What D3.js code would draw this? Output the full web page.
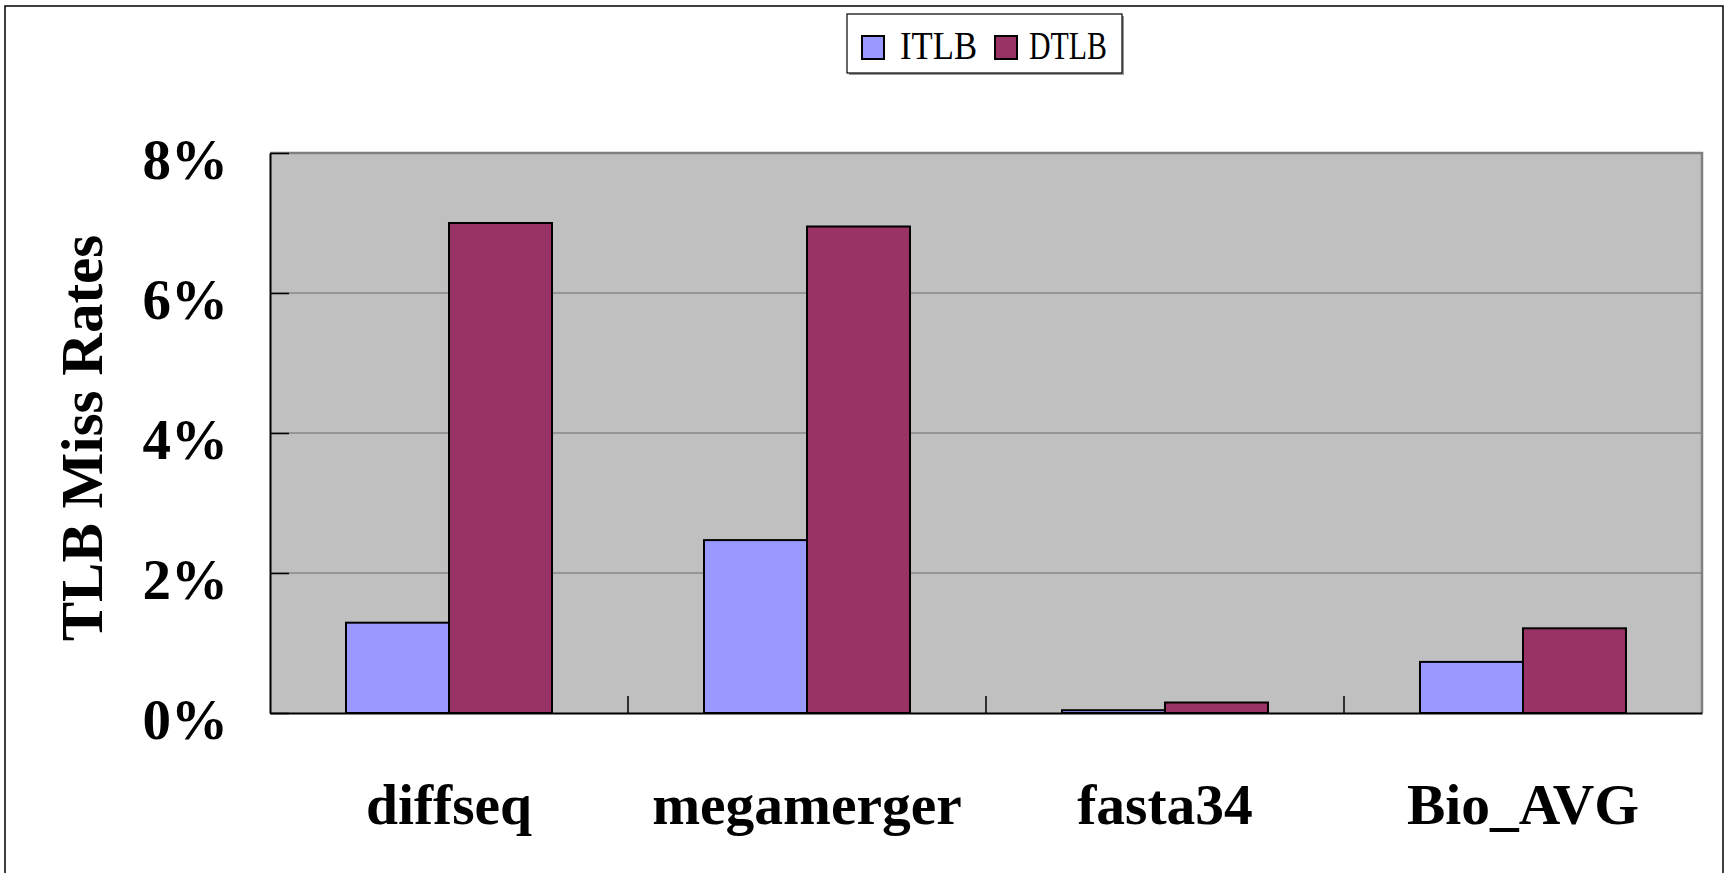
<!DOCTYPE html>
<html>
<head>
<meta charset="utf-8">
<script src="https://cdn.jsdelivr.net/npm/d3@7"></script>
<style>
  html, body { margin: 0; padding: 0; background: #fff; }
  svg { display: block; }
</style>
</head>
<body>
<svg id="chart" width="1728" height="873"></svg>
<script>
const categories = ["diffseq", "megamerger", "fasta34", "Bio_AVG"];
const seriesNames = ["ITLB", "DTLB"];
const itlbValues = [0.0129, 0.0247, 0.0004, 0.0073];
const dtlbValues = [0.0700, 0.0695, 0.0015, 0.0121];
const yTicks = [0, 0.02, 0.04, 0.06, 0.08];
const colors = ["#9999FF", "#993366"];

const seriesValues = [itlbValues, dtlbValues];
const svg = d3.select("#chart");
const serif = "'Liberation Serif', 'Times New Roman', serif";

// outer frame
svg.append("rect").attr("x", 5).attr("y", 6).attr("width", 1718).attr("height", 900)
  .attr("fill", "#fff").attr("stroke", "#000").attr("stroke-width", 1.5);

const plot = { left: 270, top: 153, right: 1702, bottom: 713 };

const y = d3.scaleLinear().domain([0, 0.08]).range([plot.bottom, plot.top]);
const x0 = d3.scaleBand().domain(categories).range([plot.left, plot.right])
  .paddingInner(0.4246).paddingOuter(0.2123);
const xSep = d3.scaleBand().domain(categories).range([plot.left, plot.right]).padding(0);
const x1 = d3.scaleBand().domain(seriesNames).range([0, x0.bandwidth()]).padding(0);

// plot background
svg.append("rect").attr("x", plot.left).attr("y", plot.top)
  .attr("width", plot.right - plot.left).attr("height", plot.bottom - plot.top)
  .attr("fill", "#C0C0C0");

// gridlines
svg.append("g").selectAll("line").data(yTicks.filter(d => d > 0)).join("line")
  .attr("x1", plot.left).attr("x2", plot.right)
  .attr("y1", d => y(d)).attr("y2", d => y(d))
  .attr("stroke", "#6a6a6a").attr("stroke-width", 1.2);

// plot border top/right
svg.append("path")
  .attr("d", `M${plot.left},${plot.top}H${plot.right}V${plot.bottom}`)
  .attr("fill", "none").attr("stroke", "#808080").attr("stroke-width", 2.5);

// bars
const groups = svg.append("g").selectAll("g").data(categories).join("g")
  .attr("transform", d => `translate(${x0(d)},0)`);
groups.selectAll("rect").data((d, i) => seriesNames.map((s, j) => ({ s, v: seriesValues[j][i], j })))
  .join("rect")
  .attr("x", d => x1(d.s)).attr("width", x1.bandwidth())
  .attr("y", d => y(d.v)).attr("height", d => plot.bottom - y(d.v))
  .attr("fill", d => colors[d.j]).attr("stroke", "#000").attr("stroke-width", 2);

// y axis
const yAxis = d3.axisLeft(y).tickValues(yTicks).tickFormat(d3.format(".0%"))
  .tickSizeInner(-19).tickSizeOuter(0).tickPadding(42);
const yg = svg.append("g").attr("transform", `translate(${plot.left},0)`).call(yAxis);
yg.select(".domain").attr("stroke", "#000").attr("stroke-width", 2);
yg.selectAll(".tick line").attr("stroke", "#000").attr("stroke-width", 1.5);
yg.selectAll(".tick text").attr("font-family", serif).attr("font-weight", "bold")
  .attr("font-size", 57).attr("fill", "#000").attr("dy", "0.44em");

// x axis
const xAxis = d3.axisBottom(xSep).tickSize(0).tickFormat(d => d).tickPadding(111);
const xg = svg.append("g").attr("transform", `translate(0,${plot.bottom})`).call(xAxis);
xg.select(".domain").attr("stroke", "#000").attr("stroke-width", 2);
xg.selectAll(".tick text").attr("font-family", serif).attr("font-weight", "bold")
  .attr("font-size", 57.5).attr("fill", "#000").attr("dy", 0);
// category separators (tick marks inward)
svg.append("g").selectAll("line").data(categories.slice(1)).join("line")
  .attr("x1", d => xSep(d)).attr("x2", d => xSep(d))
  .attr("y1", plot.bottom).attr("y2", plot.bottom - 17)
  .attr("stroke", "#000").attr("stroke-width", 1.5);

// y title
svg.append("text").attr("transform", `translate(102,438) rotate(-90)`)
  .attr("text-anchor", "middle").attr("font-family", serif).attr("font-weight", "bold")
  .attr("font-size", 59).attr("fill", "#000").text("TLB Miss Rates");

// legend
const lg = svg.append("g");
lg.append("rect").attr("x", 849).attr("y", 16).attr("width", 275).attr("height", 59).attr("fill", "#999");
lg.append("rect").attr("x", 847).attr("y", 14).attr("width", 275).attr("height", 59)
  .attr("fill", "#fff").attr("stroke", "#000").attr("stroke-width", 1.2);
const legendItems = [
  { name: seriesNames[0], color: colors[0], sx: 862, tx: 900, tw: 77 },
  { name: seriesNames[1], color: colors[1], sx: 995, tx: 1029, tw: 78 }
];
lg.selectAll("rect.sw").data(legendItems).join("rect").attr("class", "sw")
  .attr("x", d => d.sx).attr("y", 36).attr("width", 22).attr("height", 23)
  .attr("fill", d => d.color).attr("stroke", "#000").attr("stroke-width", 2);
lg.selectAll("text").data(legendItems).join("text")
  .attr("x", d => d.tx).attr("y", 59)
  .attr("font-family", serif).attr("font-size", 41).attr("fill", "#000")
  .attr("textLength", d => d.tw).attr("lengthAdjust", "spacingAndGlyphs")
  .text(d => d.name);
</script>
</body>
</html>
